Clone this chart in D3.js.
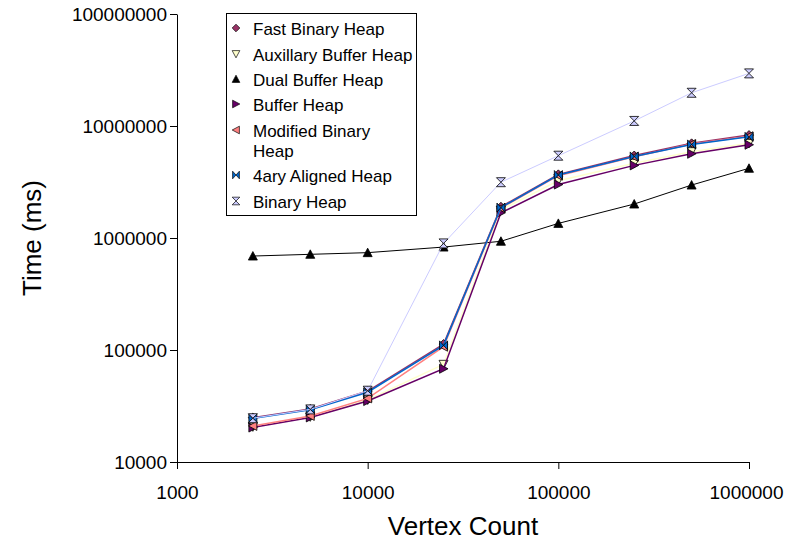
<!DOCTYPE html>
<html>
<head>
<meta charset="utf-8">
<script src="https://cdn.jsdelivr.net/npm/d3@7"></script>
<style>
  html, body { margin: 0; padding: 0; background: #fff; }
  svg { display: block; font-family: "Liberation Sans", Arial, sans-serif; }
</style>
</head>
<body>
<svg id="chart" width="786" height="541"></svg>
<script>
// ---- data ----
const vertexCounts = [2500, 5000, 10000, 25000, 50000, 100000, 250000, 500000, 1000000];
const seriesNames = ["Fast Binary Heap", "Auxillary Buffer Heap", "Dual Buffer Heap", "Buffer Heap", "Modified Binary Heap", "4ary Aligned Heap", "Binary Heap"];
const fastBinary = [24900, 29700, 43000, 113000, 1900000, 3700000, 5450000, 7000000, 8300000];
const auxBuffer  = [20600, 25300, 35800, 74500, 1780000, 3250000, 4650000, 5900000, 7000000];
const dualBuffer = [690000, 715000, 740000, 830000, 935000, 1350000, 2010000, 2970000, 4190000];
const buffer     = [20300, 25000, 35000, 68000, 1680000, 3000000, 4450000, 5650000, 6800000];
const modified   = [21000, 25800, 37000, 107000, 1850000, 3600000, 5300000, 6900000, 8100000];
const fourAry    = [24500, 29300, 42000, 110000, 1870000, 3650000, 5350000, 6850000, 8000000];
const binary     = [24600, 29500, 43300, 895000, 3150000, 5430000, 11100000, 19800000, 29500000];
const xTicks = [1000, 10000, 100000, 1000000];
const yTicks = [10000, 100000, 1000000, 10000000, 100000000];

// ---- styles ----
const styles = [
  {line: "#993366", fill: "#993366", w: 1.5, shape: "diamond"},
  {line: "#FFFFCC", fill: "#FFFFCC", w: 1.5, shape: "down"},
  {line: "#000000", fill: "#000000", w: 1,   shape: "up"},
  {line: "#660066", fill: "#660066", w: 1.5, shape: "right"},
  {line: "#FF8080", fill: "#FF8080", w: 1.5, shape: "left"},
  {line: "#0066CC", fill: "#0066CC", w: 1.5, shape: "bowtie"},
  {line: "#CCCCFF", fill: "#CCCCFF", w: 1,   shape: "hourglass"}
];
const allValues = [fastBinary, auxBuffer, dualBuffer, buffer, modified, fourAry, binary];

const shapes = {
  diamond:   "M0,-4.5L4.5,0L0,4.5L-4.5,0Z",
  down:      "M-4.5,-4L4.5,-4L0,4.5Z",
  up:        "M0,-4.5L4.5,4L-4.5,4Z",
  right:     "M-4,-4.5L4.5,0L-4,4.5Z",
  left:      "M4,-4.5L-4.5,0L4,4.5Z",
  bowtie:    "M-4,-4.5L0,0L-4,4.5ZM4,-4.5L0,0L4,4.5Z",
  hourglass: "M-4.5,-4.5L4.5,-4.5L0,0ZM-4.5,4.5L4.5,4.5L0,0Z"
};

const svg = d3.select("#chart");
const x = d3.scaleLog().domain([1000, 1000000]).range([177, 749]);
const y = d3.scaleLog().domain([10000, 100000000]).range([462, 14]);

// axes
const xAxis = d3.axisBottom(x).tickValues(xTicks).tickFormat(d3.format("d")).tickSize(7).tickSizeOuter(0);
const yAxis = d3.axisLeft(y).tickValues(yTicks).tickFormat(d3.format("d")).tickSize(7).tickSizeOuter(0);

const gx = svg.append("g").attr("transform", "translate(0,462)").call(xAxis);
const gy = svg.append("g").attr("transform", "translate(177,0)").call(yAxis);
[gx, gy].forEach(g => {
  g.select(".domain").attr("stroke", "#000").attr("stroke-width", 1);
  g.selectAll(".tick line").attr("stroke", "#000").attr("stroke-width", 1);
  g.selectAll(".tick text").attr("fill", "#000").style("font-size", "19px")
    .style("font-family", "'Liberation Sans', Arial, sans-serif");
});
gx.selectAll(".tick text").attr("dy", "0").attr("y", 37);
gx.selectAll(".tick text").filter(d => d === 1000000).attr("x", -3);
gy.selectAll(".tick text").attr("x", -10).attr("dy", "0.36em");

// axis titles
svg.append("text").attr("x", 463).attr("y", 535).attr("text-anchor", "middle")
  .style("font-size", "26px").text("Vertex Count");
svg.append("text").attr("transform", "translate(41,238) rotate(-90)").attr("text-anchor", "middle")
  .style("font-size", "26px").text("Time (ms)");

// series
const line = d3.line().x((d, i) => x(vertexCounts[i])).y(d => y(d));
allValues.forEach((vals, si) => {
  const st = styles[si];
  const g = svg.append("g");
  g.append("path").datum(vals).attr("d", line).attr("fill", "none")
    .attr("stroke", st.line).attr("stroke-width", st.w);
  g.selectAll("path.m").data(vals).enter().append("path").attr("class", "m")
    .attr("d", shapes[st.shape])
    .attr("transform", (d, i) => `translate(${x(vertexCounts[i])},${y(d)})`)
    .attr("fill", st.fill).attr("stroke", "#000").attr("stroke-width", 0.8);
});

// legend
const lg = svg.append("g");
lg.append("rect").attr("x", 226.5).attr("y", 13.5).attr("width", 190).attr("height", 202)
  .attr("fill", "#fff").attr("stroke", "#000").attr("stroke-width", 1);
const rowsY = [29, 55, 80, 105, 131, 176, 202];
seriesNames.forEach((name, i) => {
  const st = styles[i];
  lg.append("path").attr("d", shapes[st.shape])
    .attr("transform", `translate(236,${rowsY[i] - 1}) scale(0.85)`)
    .attr("fill", st.fill).attr("stroke", "#000").attr("stroke-width", 0.8);
  const t = lg.append("text").attr("x", 253).attr("y", rowsY[i]).attr("dy", "0.35em")
    .style("font-size", "17px");
  if (name === "Modified Binary Heap") {
    t.append("tspan").attr("x", 253).text("Modified Binary");
    t.append("tspan").attr("x", 253).attr("dy", "20px").text("Heap");
    t.attr("dy", null).attr("y", rowsY[i] + 6);
  } else {
    t.text(name);
  }
});
</script>
</body>
</html>
